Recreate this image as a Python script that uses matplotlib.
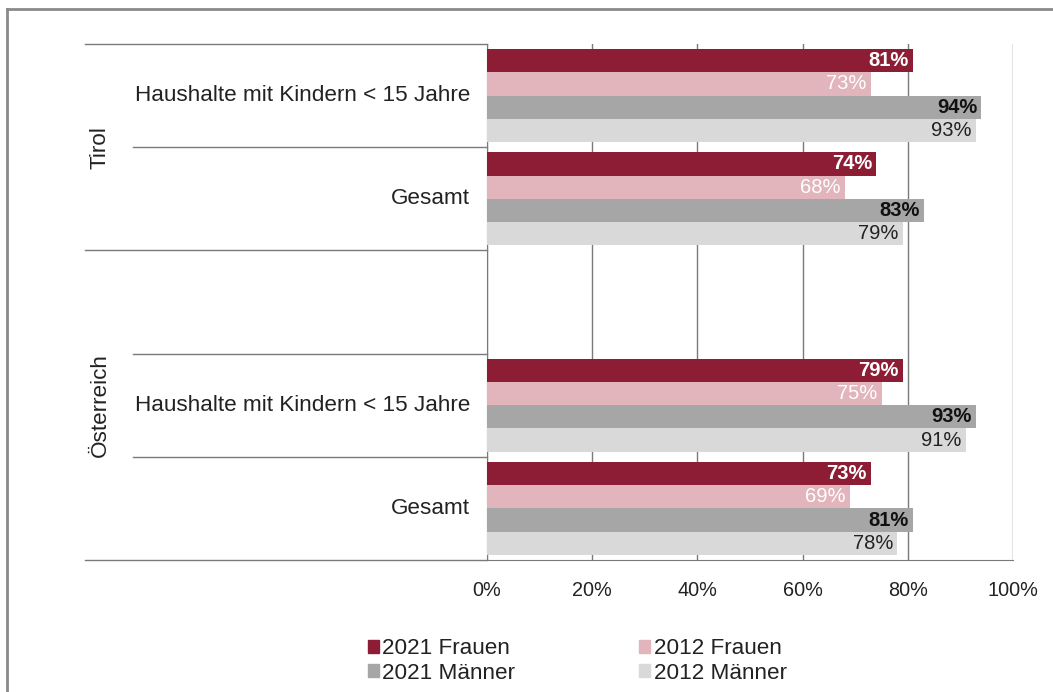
import matplotlib.pyplot as plt
import matplotlib.transforms as mtransforms
from matplotlib.patches import Patch
from matplotlib.lines import Line2D
import numpy as np

plt.rcParams['font.family'] = ['Liberation Sans', 'DejaVu Sans']

# rows from top to bottom; the empty row separates the two regions
categories = ['Haushalte mit Kindern < 15 Jahre', 'Gesamt', '',
              'Haushalte mit Kindern < 15 Jahre', 'Gesamt']
groups = ['Tirol', 'Österreich']
series_names = ['2021 Frauen', '2012 Frauen', '2021 Männer', '2012 Männer']
frauen_2021 = [81, 74, None, 79, 73]
frauen_2012 = [73, 68, None, 75, 69]
maenner_2021 = [94, 83, None, 93, 81]
maenner_2012 = [93, 79, None, 91, 78]
ticks = [0, 20, 40, 60, 80, 100]
tick_labels = ['0%', '20%', '40%', '60%', '80%', '100%']

colors = ['#8C1D35', '#E2B4BC', '#A6A6A6', '#D9D9D9']
label_colors = ['white', 'white', '#111111', '#222222']
label_weights = ['bold', 'normal', 'bold', 'normal']

W, H = 1053, 692
fig = plt.figure(figsize=(W / 100, H / 100), dpi=100)
x0, x1, y0, y1 = 487, 1013, 44, 560
ax = fig.add_axes([x0 / W, 1 - y1 / H, (x1 - x0) / W, (y1 - y0) / H])

bar_h = 0.225
values = [frauen_2021, frauen_2012, maenner_2021, maenner_2012]
for k, vals in enumerate(values):
    for i, v in enumerate(vals):
        if v is None:
            continue
        yc = i + 0.05 + bar_h * (k + 0.5)
        ax.barh(yc, v, height=bar_h, color=colors[k], zorder=3)
        ax.text(v - 0.8, yc, f'{v}%', ha='right', va='center',
                color=label_colors[k], fontsize=14.5,
                fontweight=label_weights[k], zorder=4)

ax.set_xlim(0, 100)
ax.set_ylim(len(categories), 0)
ax.set_xticks(ticks)
ax.set_xticklabels(tick_labels, fontsize=14.3, color='#222222')
ax.set_yticks([])
ax.tick_params(axis='x', length=0, pad=15)
ax.grid(axis='x', color='#7a7a7a', linewidth=1.0, zorder=0)
for s in ['top', 'right']:
    ax.spines[s].set_visible(False)
ax.spines['left'].set_color('#7a7a7a')
ax.spines['bottom'].set_color('#7a7a7a')

# multi-level category axis on the left
trans = mtransforms.blended_transform_factory(ax.transAxes, ax.transData)
long_x = (85 - x0) / (x1 - x0)
short_x = (133 - x0) / (x1 - x0)
for yb, xs in [(0, long_x), (1, short_x), (2, long_x), (3, short_x),
               (4, short_x), (5, long_x)]:
    ax.add_line(Line2D([xs, 0], [yb, yb], transform=trans, color='#7a7a7a',
                       linewidth=1.0, clip_on=False))
for i, c in enumerate(categories):
    if c:
        ax.text(-0.032, i + 0.5, c, transform=trans, ha='right', va='center',
                fontsize=16.2, color='#222222')
gx = (100 - x0) / (x1 - x0)
ax.text(gx, 1.0, groups[0], transform=trans, rotation=90, ha='center',
        va='center', fontsize=16.2, color='#222222')
ax.text(gx, 3.5, groups[1], transform=trans, rotation=90, ha='center',
        va='center', fontsize=16.2, color='#222222')

# outer frame (left and top)
fig.add_artist(Line2D([7 / W, 7 / W], [0, 1 - 9 / H], transform=fig.transFigure,
                      color='#8a8a8a', linewidth=2))
fig.add_artist(Line2D([7 / W, 1], [1 - 9 / H, 1 - 9 / H], transform=fig.transFigure,
                      color='#8a8a8a', linewidth=2))

handles = [Patch(color=colors[k], label=series_names[k]) for k in [0, 2, 1, 3]]
fig.legend(handles=handles, ncol=2, loc='center',
           bbox_to_anchor=(577 / W, 1 - 661 / H), frameon=False,
           fontsize=16.2, handlelength=0.5, handleheight=0.5,
           handletextpad=0.15, columnspacing=5.5, labelspacing=0.15,
           labelcolor='#222222')

fig.savefig('out.png', dpi=100, facecolor='white')
